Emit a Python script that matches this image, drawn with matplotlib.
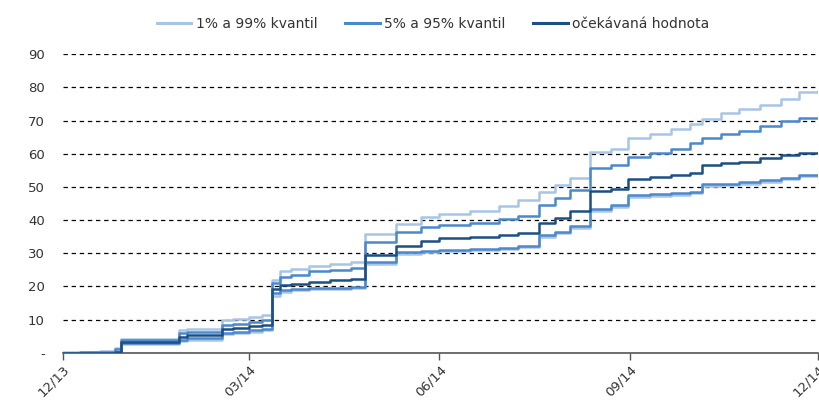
import matplotlib
matplotlib.use("Agg")
import matplotlib.pyplot as plt
import matplotlib.dates as mdates
import pandas as pd

# Breakpoints of the cumulative step series
dates = pd.to_datetime([
    "2013-12-01", "2013-12-09", "2013-12-19", "2013-12-26", "2013-12-29",
    "2014-01-26", "2014-01-30", "2014-02-16", "2014-02-21", "2014-03-01",
    "2014-03-07", "2014-03-12", "2014-03-16", "2014-03-21", "2014-03-30",
    "2014-04-09", "2014-04-19", "2014-04-26", "2014-05-11", "2014-05-23",
    "2014-06-01", "2014-06-16", "2014-06-30", "2014-07-09", "2014-07-19",
    "2014-07-27", "2014-08-03", "2014-08-13", "2014-08-23", "2014-08-31",
    "2014-09-11", "2014-09-21", "2014-09-30", "2014-10-06", "2014-10-15",
    "2014-10-24", "2014-11-03", "2014-11-13", "2014-11-22", "2014-12-01",
])

q99 = [0.2, 0.3, 0.6, 1.5, 4.2, 7.0, 7.3, 9.8, 10.3, 10.8,
       11.3, 21.8, 24.5, 25.2, 26.0, 26.8, 27.5, 35.8, 38.8, 41.0,
       41.8, 42.7, 44.3, 46.0, 48.5, 50.5, 52.8, 60.6, 61.3, 64.6,
       66.0, 67.5, 69.0, 70.5, 72.4, 73.5, 74.7, 76.5, 78.5, 79.0]
q95 = [0.0, 0.1, 0.3, 1.0, 3.8, 5.8, 6.3, 8.5, 8.8, 9.3,
       9.8, 21.0, 22.8, 23.5, 24.5, 25.0, 25.6, 33.3, 36.5, 37.8,
       38.5, 39.2, 40.2, 41.2, 44.5, 46.5, 49.0, 55.6, 56.6, 59.1,
       60.3, 61.3, 63.3, 64.8, 65.8, 66.8, 68.5, 70.0, 70.8, 70.8]
mean = [0.0, 0.0, 0.0, 0.2, 3.3, 4.8, 5.3, 7.3, 7.5, 8.0,
        8.5, 19.3, 20.3, 20.8, 21.3, 21.8, 22.3, 29.5, 32.3, 33.8,
        34.5, 35.0, 35.5, 36.0, 39.0, 40.5, 42.8, 48.8, 49.3, 52.3,
        53.0, 53.5, 54.3, 56.6, 57.2, 57.6, 58.7, 59.6, 60.3, 60.3]
q05 = [0.0, 0.0, 0.0, 0.1, 3.0, 3.8, 4.3, 6.0, 6.3, 6.8,
       7.2, 18.0, 18.8, 19.3, 19.5, 19.6, 19.8, 27.3, 30.3, 30.8,
       31.0, 31.3, 31.6, 32.2, 35.5, 36.5, 38.2, 43.3, 44.5, 47.5,
       47.8, 48.2, 48.6, 50.8, 51.0, 51.4, 52.0, 52.8, 53.5, 53.5]
q01 = [0.0, 0.0, 0.0, 0.0, 2.7, 3.4, 3.9, 5.5, 5.8, 6.3,
       6.7, 17.2, 18.3, 18.9, 19.1, 19.3, 19.5, 26.8, 29.8, 30.4,
       30.6, 30.9, 31.2, 31.8, 35.0, 36.0, 37.7, 42.8, 44.0, 47.0,
       47.3, 47.7, 48.1, 50.3, 50.6, 51.0, 51.6, 52.4, 53.2, 53.2]

tick_dates = pd.to_datetime(["2013-12-01", "2014-03-01", "2014-06-01",
                             "2014-09-01", "2014-12-01"])
y_ticks = [0, 10, 20, 30, 40, 50, 60, 70, 80, 90]
y_labels = ["-"] + [str(v) for v in y_ticks[1:]]

labels = ["1% a 99% kvantil", "5% a 95% kvantil", "očekávaná hodnota"]
c_light = "#a8c5e5"
c_mid = "#4b88cc"
c_dark = "#1d4f82"

plt.rcParams["font.family"] = ["DejaVu Sans"]

fig = plt.figure(figsize=(8.2, 4.01), dpi=100)
ax = fig.add_axes([0.0768, 0.1204, 0.9208, 0.7444])

lw = 1.8
ax.step(dates, q01, where="post", color=c_light, lw=lw, zorder=3)
ax.step(dates, q99, where="post", color=c_light, lw=lw, zorder=3)
ax.step(dates, q05, where="post", color=c_mid, lw=lw, zorder=4)
ax.step(dates, q95, where="post", color=c_mid, lw=lw, zorder=4)
ax.step(dates, mean, where="post", color=c_dark, lw=lw, zorder=5)

ax.set_xlim(dates[0], dates[-1])
ax.set_ylim(0, 90)

ax.set_yticks(y_ticks)
ax.set_yticklabels(y_labels)
ax.tick_params(axis="y", length=0, pad=13, labelsize=9.5, colors="#333333")
ax.set_xticks(tick_dates)
ax.xaxis.set_major_formatter(mdates.DateFormatter("%m/%y"))
ax.tick_params(axis="x", length=5, width=1, color="#555555",
               labelsize=9.5, labelcolor="#333333", pad=2)
for lbl in ax.get_xticklabels():
    lbl.set_rotation(45)
    lbl.set_ha("right")
    lbl.set_rotation_mode("anchor")

for yv in y_ticks[1:]:
    ax.axhline(yv, color="black", lw=0.9, ls=(0, (3.5, 3)), zorder=1)

for side in ["top", "right", "left"]:
    ax.spines[side].set_visible(False)
ax.spines["bottom"].set_color("#555555")
ax.spines["bottom"].set_linewidth(1.2)

handles = [plt.Line2D([], [], color=c, lw=2.2) for c in (c_light, c_mid, c_dark)]
fig.legend(handles, labels, loc="upper center", bbox_to_anchor=(0.528, 0.99),
           ncol=3, frameon=False, fontsize=10, handlelength=2.5,
           handletextpad=0.3, columnspacing=2.0, labelcolor="#333333")

fig.savefig("out.png", dpi=100)
